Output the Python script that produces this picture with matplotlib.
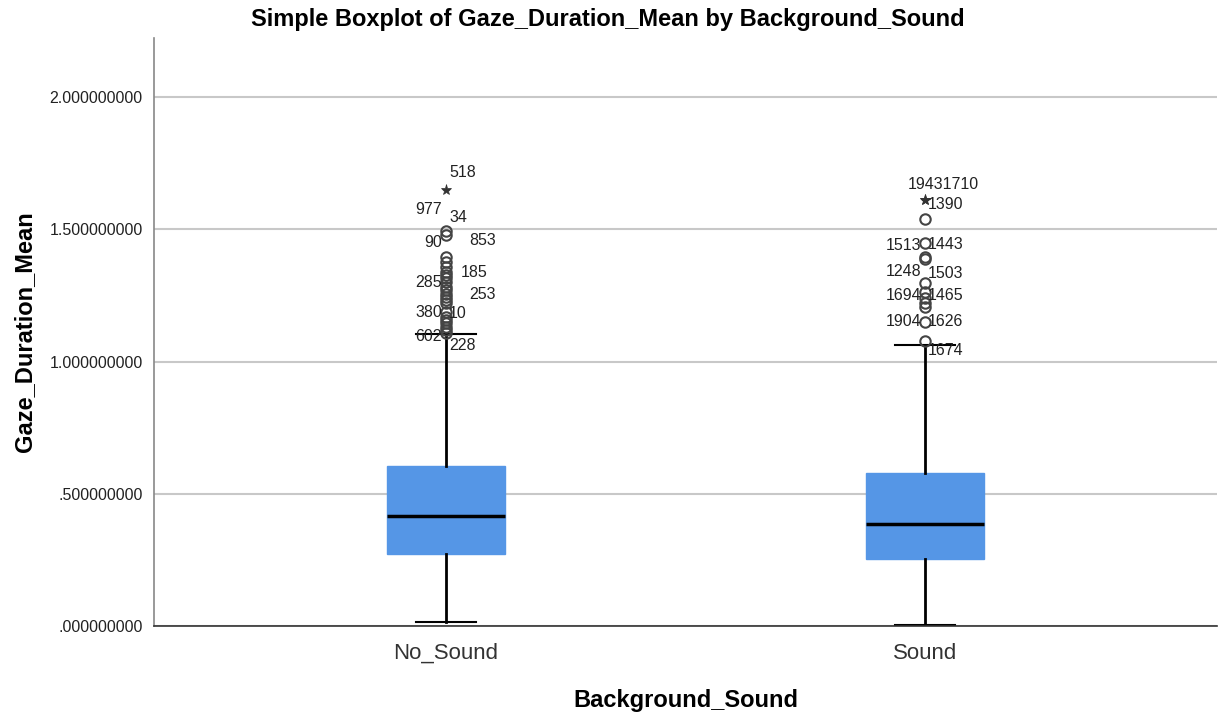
import matplotlib.pyplot as plt

plt.rcParams['font.family'] = ['Liberation Sans', 'DejaVu Sans']

# box summaries
groups = ['No_Sound', 'Sound']
q1 = [0.272, 0.253]
med = [0.416, 0.386]
q3 = [0.605, 0.578]
whislo = [0.015, 0.003]
whishi = [1.104, 1.062]

# outliers (circles) and extremes (stars)
out_no = [1.494, 1.478, 1.396, 1.377, 1.358, 1.339, 1.327, 1.314, 1.302, 1.283,
          1.270, 1.257, 1.245, 1.232, 1.220, 1.188, 1.169, 1.157, 1.144, 1.132,
          1.119, 1.109]
ext_no = [1.648]
out_snd = [1.540, 1.449, 1.394, 1.386, 1.296, 1.264, 1.240, 1.222, 1.206, 1.150, 1.079]
ext_snd = [1.610, 1.612]

# case labels: (text, y value, side)
lab_no = [('518', 1.713, 'r'), ('977', 1.573, 'l'), ('34', 1.546, 'r'),
          ('90', 1.448, 'l'), ('853', 1.459, 'r2'), ('185', 1.338, 'r1'),
          ('285', 1.300, 'l'), ('253', 1.255, 'r2'), ('380', 1.187, 'l'),
          ('10', 1.180, 'r'), ('602', 1.093, 'l'), ('228', 1.062, 'r')]
lab_snd = [('19431710', 1.671, 'c'), ('1390', 1.592, 'r'), ('1513', 1.437, 'l'),
           ('1443', 1.444, 'r'), ('1248', 1.342, 'l'), ('1503', 1.331, 'r'),
           ('1694', 1.251, 'l'), ('1465', 1.251, 'r'), ('1904', 1.153, 'l'),
           ('1626', 1.153, 'r'), ('1674', 1.043, 'r')]

fig = plt.figure(figsize=(12.21, 7.14), dpi=100)
ax = fig.add_axes([0.1261, 0.1232, 0.8706, 0.8236])

stats = []
for i, g in enumerate(groups):
    stats.append(dict(label=g, q1=q1[i], med=med[i], q3=q3[i],
                      whislo=whislo[i], whishi=whishi[i], fliers=[]))

ax.yaxis.grid(True, color='#c8c8c8', lw=1.5)
ax.set_axisbelow(True)

ax.bxp(stats, positions=[1, 2], widths=0.248, patch_artist=True, showfliers=False,
       boxprops=dict(facecolor='#5596e6', edgecolor='#5596e6', lw=1),
       medianprops=dict(color='black', lw=2.5),
       whiskerprops=dict(color='black', lw=2),
       capprops=dict(color='black', lw=1.5), capwidths=0.124)

for pos, outs, exts in [(1, out_no, ext_no), (2, out_snd, ext_snd)]:
    ax.plot([pos] * len(outs), outs, 'o', ms=7.5, mfc='none', mec='#444444', mew=1.5)
    ax.plot([pos] * len(exts), exts, '*', ms=8, color='#333333', mew=0.5)

offs = {'l': (-4, 'right'), 'r': (3, 'left'), 'r1': (15, 'left'),
        'r2': (23, 'left'), 'c': (-17, 'left')}
for pos, labs in [(1, lab_no), (2, lab_snd)]:
    for txt, y, side in labs:
        dx, ha = offs[side]
        ax.annotate(txt, (pos, y), xytext=(dx * 0.72, 0), textcoords='offset points',
                    ha=ha, va='center', fontsize=11.5, color='#222222')

ax.set_xlim(0.39, 2.61)
ax.set_ylim(0, 2.223)
ax.set_yticks([0, 0.5, 1.0, 1.5, 2.0])
ax.set_yticklabels(['.000000000', '.500000000', '1.000000000', '1.500000000', '2.000000000'])
ax.tick_params(axis='y', length=0, pad=8, labelsize=11.5, labelcolor='#222222')
ax.tick_params(axis='x', length=0, pad=12, labelsize=16, labelcolor='#333333')

for s in ['top', 'right']:
    ax.spines[s].set_visible(False)
ax.spines['left'].set_color('#888888')
ax.spines['left'].set_linewidth(1.2)
ax.spines['bottom'].set_color('#333333')
ax.spines['bottom'].set_linewidth(1.2)

ax.set_xlabel('Background_Sound', fontsize=17, fontweight='bold', labelpad=18)
ax.set_ylabel('Gaze_Duration_Mean', fontsize=17, fontweight='bold', labelpad=10)
fig.text(0.498, 0.973, 'Simple Boxplot of Gaze_Duration_Mean by Background_Sound',
         ha='center', va='center', fontsize=17, fontweight='bold')

fig.savefig('out.png', dpi=100)
